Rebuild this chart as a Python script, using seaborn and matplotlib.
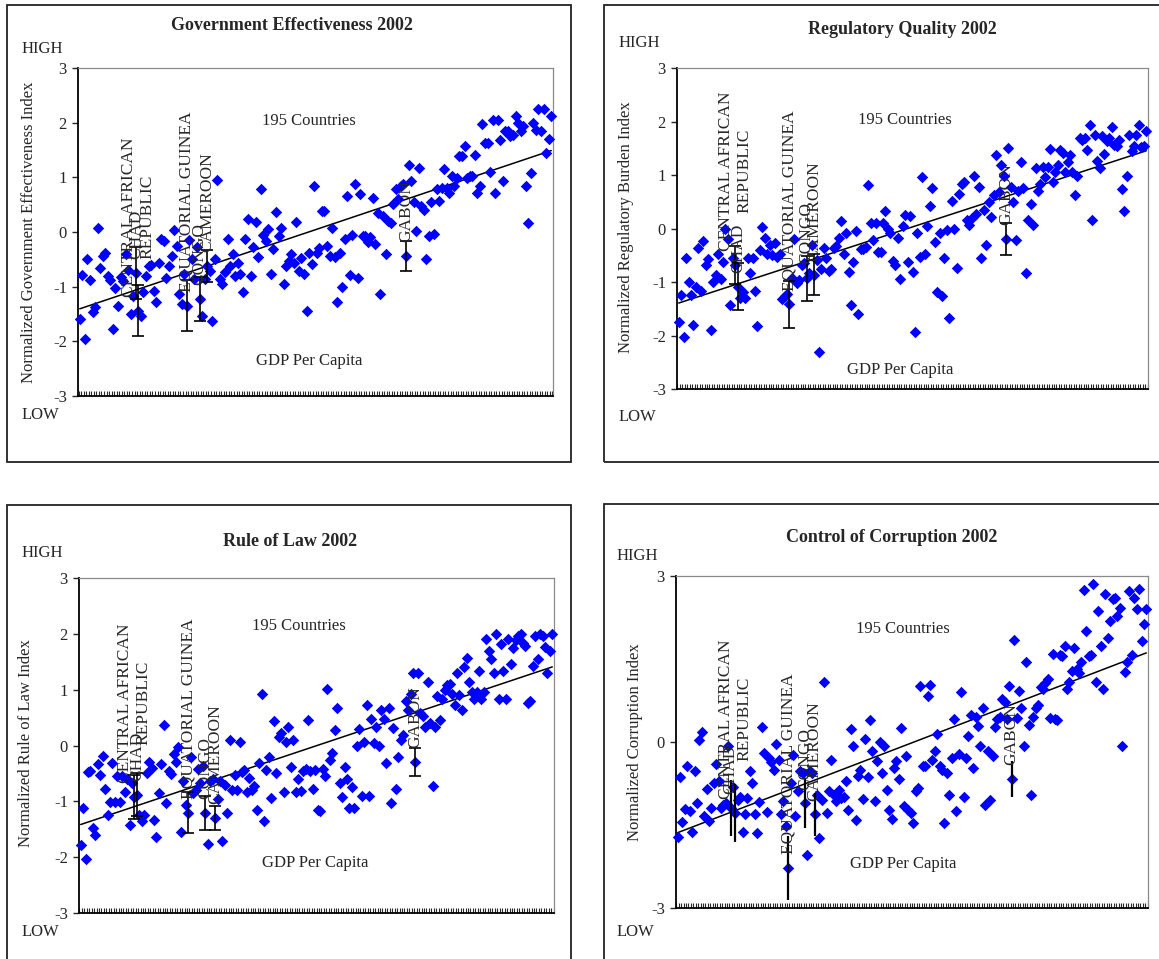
import numpy as np
import pandas as pd
import matplotlib
matplotlib.use("Agg")
import matplotlib.pyplot as plt
import seaborn as sns
from matplotlib.patches import Rectangle

# ---------------- data (countries ordered by GDP per capita) ----------------
gov_eff = [
    -1.60, -0.78, -1.96, -0.50, -0.88, -1.47, -1.38, 0.07, -0.66, -0.43,
    -0.38, -0.80, -0.88, -1.78, -1.03, -1.35, -0.82, -0.90, -0.41, -0.70,
    -1.50, -1.17, -0.75, -1.44, -1.53, -1.10, -0.80, -0.62, -0.60, -1.08,
    -1.28, -0.57, -0.13, -0.16, -0.85, -0.62, -0.44, 0.03, -0.25, -1.14,
    -1.32, -0.77, -1.35, -0.15, -0.50, -0.86, -0.28, -1.23, -1.53, -0.86,
    -0.62, -0.71, -1.62, -0.50, 0.96, -0.86, -0.95, -0.74, -0.12, -0.62,
    -0.41, -0.80, -0.56, -0.77, -1.09, -0.13, 0.23, -0.80, -0.28, 0.18,
    -0.45, 0.79, -0.06, -0.16, 0.05, -0.77, -0.32, 0.36, -0.07, 0.08,
    -0.95, -0.62, -0.53, -0.41, -0.56, 0.18, -0.71, -0.47, -0.77, -1.45,
    -0.38, -0.59, 0.84, -0.39, -0.30, 0.38, 0.38, -0.25, -0.44, 0.07,
    -0.45, -1.28, -0.38, -1.00, -0.13, 0.66, -0.79, -0.06, 0.87, -0.85,
    0.69, -0.07, -0.07, -0.19, -0.09, 0.62, -0.22, 0.35, -1.14, 0.29,
    -0.41, 0.20, 0.16, 0.52, 0.78, 0.61, 0.84, 0.87, -0.44, 1.22,
    0.93, 0.54, 0.02, 1.17, 0.47, 0.41, -0.49, -0.07, 0.55, -0.04,
    0.78, 0.57, 0.81, 1.16, 0.81, 0.72, 1.02, 0.84, 0.99, 1.39,
    1.39, 1.57, 0.99, 1.02, 1.02, 1.40, 0.71, 0.85, 1.98, 1.63,
    1.63, 1.10, 2.04, 0.71, 2.04, 1.68, 0.93, 1.85, 1.85, 1.76,
    1.78, 2.13, 1.99, 1.84, 1.93, 0.84, 0.16, 1.08, 1.99, 1.87,
    2.25, 1.84, 2.25, 1.45, 1.70, 2.13,
]

reg_quality = [
    -1.75, -1.24, -2.03, -0.55, -1.00, -1.24, -1.81, -1.09, -0.36, -1.17,
    -0.24, -0.68, -0.57, -1.89, -1.00, -0.87, -0.48, -0.94, -0.62, 0.00,
    -0.19, -1.43, -0.55, -0.68, -1.09, -1.30, -1.18, -1.30, -0.55, -0.84,
    -0.55, -1.17, -1.83, -0.40, 0.03, -0.17, -0.48, -0.31, -0.50, -0.28,
    -0.53, -0.47, -1.32, -1.26, -1.23, -1.42, -0.93, -0.20, -1.02, -0.96,
    -0.68, -0.65, -0.93, -0.84, -0.31, -0.86, -0.59, -2.30, -0.75, -0.36,
    -0.56, -0.80, -0.75, -0.36, -0.32, -0.17, 0.14, -0.47, -0.09, -0.82,
    -1.43, -0.62, -0.05, -1.60, -0.39, -0.39, -0.34, 0.81, 0.11, -0.22,
    0.11, -0.43, -0.43, 0.11, 0.33, 0.00, -0.09, -0.60, -0.68, -0.17,
    -0.94, 0.05, 0.26, -0.62, 0.23, -0.82, -1.94, -0.09, -0.53, 0.96,
    -0.47, 0.04, 0.42, 0.76, -0.25, -1.18, -0.09, -1.27, -0.55, -0.02,
    -1.68, 0.51, 0.00, -0.73, 0.65, 0.84, 0.86, 0.16, 0.06, 0.19,
    0.99, 0.28, 0.78, -0.55, 0.34, -0.31, 0.50, 0.22, 0.62, 1.37,
    0.68, 1.19, 0.99, -0.19, 1.50, 0.78, 0.50, -0.22, 0.70, 1.24,
    0.76, -0.84, 0.16, 0.45, 0.06, 1.13, 0.71, 0.84, 1.15, 0.96,
    1.15, 1.48, 0.86, 1.06, 1.18, 1.46, 1.42, 1.06, 1.24, 1.37,
    1.06, 0.63, 0.99, 1.69, 1.65, 1.69, 1.46, 1.94, 0.16, 1.75,
    1.27, 1.13, 1.73, 1.40, 1.63, 1.69, 1.89, 1.57, 1.55, 1.66,
    0.73, 0.32, 0.99, 1.75, 1.44, 1.55, 1.74, 1.93, 1.52, 1.55,
    1.83,
]

rule_of_law = [
    -1.79, -1.12, -2.04, -0.48, -0.45, -1.48, -1.61, -0.33, -0.52, -0.18,
    -0.78, -1.24, -1.02, -0.32, -1.02, -0.54, -1.02, -0.54, -0.84, -0.60,
    -1.42, -0.67, -0.92, -0.88, -1.24, -1.36, -1.24, -0.49, -0.30, -0.40,
    -1.34, -1.63, -0.85, -0.33, 0.36, -1.03, -0.46, -0.51, -0.15, -0.30,
    -0.03, -1.55, -0.64, -1.06, -1.20, -0.20, -0.85, -0.80, -0.42, -0.67,
    -0.36, -1.21, -1.76, -0.64, -0.60, -1.30, -0.96, -0.63, -1.71, -0.70,
    -1.21, 0.10, -0.80, -0.52, -0.80, 0.07, -0.48, -0.43, -0.84, -0.58,
    -0.79, -0.72, -1.16, -0.32, 0.92, -1.36, -0.43, -0.21, -0.94, 0.43,
    -0.49, 0.16, 0.22, -0.83, 0.07, 0.33, -0.39, 0.10, -0.83, -0.60,
    -0.82, -0.45, -0.42, 0.45, -0.46, -0.78, -0.43, -1.15, -1.17, -0.42,
    -0.54, 1.01, -0.26, -0.13, 0.28, 0.67, -0.67, -0.92, -0.39, -0.60,
    -1.12, -0.74, -1.12, 0.00, 0.29, -0.91, 0.06, 0.73, -0.91, 0.47,
    0.05, 0.34, 0.00, 0.64, 0.47, -0.32, 0.67, -1.03, 0.31, -0.78,
    -0.21, 0.10, 0.18, 0.79, 0.64, 0.93, 1.29, -0.29, 1.29, 0.58,
    0.52, 0.34, 1.14, 0.40, -0.72, 0.34, 0.88, 0.45, 0.83, 0.99,
    1.08, 1.10, 0.93, 0.73, 1.29, 0.90, 0.64, 1.41, 1.56, 1.14,
    0.95, 0.83, 0.96, 1.34, 0.83, 0.96, 1.90, 1.70, 1.55, 1.29,
    1.99, 0.83, 1.82, 1.34, 0.83, 1.90, 1.46, 1.74, 1.89, 1.96,
    1.99, 1.83, 1.78, 0.76, 0.80, 1.42, 1.96, 1.55, 1.99, 1.96,
    1.77, 1.29, 1.70, 1.99,
]

corruption = [
    -1.71, -0.63, -1.45, -1.21, -0.43, -1.25, -1.62, -0.53, -1.10, 0.04,
    0.18, -1.34, -0.85, -1.43, -1.19, -0.74, -0.40, -0.71, -1.19, -1.13,
    -1.10, -0.07, -1.19, -0.81, -1.28, -1.04, -0.99, -1.62, -1.30, -1.01,
    -0.53, -0.74, -1.31, -1.64, -1.09, 0.28, -0.19, -1.27, -0.29, -0.37,
    -0.50, -0.03, -0.33, -1.31, -1.06, -1.52, -2.27, -0.74, -0.23, -1.34,
    -0.89, -0.53, -0.56, -1.11, -2.04, -0.53, -0.56, -1.31, -0.95, -1.73,
    -1.05, 1.09, -1.28, -0.89, -0.32, -0.95, -1.07, -0.87, -1.01, -0.99,
    -0.71, -1.23, 0.23, -0.08, -1.41, -0.61, -0.50, -1.03, 0.05, -0.63,
    0.39, -0.17, -1.07, -0.35, 0.00, -0.56, -0.07, -0.87, -1.23, -1.40,
    -0.47, -0.35, -0.66, 0.25, -1.15, -0.25, -1.22, -1.28, -1.46, -0.89,
    -0.83, 1.02, -0.43, -0.43, 0.84, 1.03, -0.33, -0.17, 0.15, -0.44,
    -0.50, -1.46, -0.56, -0.95, -0.29, 0.41, -1.25, -0.21, 0.91, -0.99,
    -0.29, 0.10, 0.48, -0.47, 0.46, 0.29, -0.07, 0.61, -1.13, -0.17,
    -1.05, -0.25, 0.27, 0.41, 0.46, 0.78, 0.72, 0.41, 1.02, -0.67,
    1.85, 0.43, 0.93, 0.61, -0.07, 1.44, 0.31, -0.95, 0.46, 0.61,
    0.66, 1.00, 0.96, 1.06, 1.14, 0.43, 1.59, 0.41, 0.39, 1.58,
    1.56, 1.74, 0.96, 1.08, 1.29, 1.70, 1.32, 1.24, 1.44, 2.74,
    2.00, 1.56, 1.58, 2.86, 1.09, 2.36, 1.74, 0.96, 2.68, 1.88,
    2.18, 2.58, 2.60, 2.28, 2.42, -0.08, 1.26, 1.44, 2.72, 1.58,
    2.60, 2.40, 2.76, 1.82, 2.13, 2.40,
]

# highlighted countries: GDP rank in each panel and half-width of error bar
country_names = ["CENTRAL AFRICAN\nREPUBLIC", "CHAD", "EQUATORIAL GUINEA",
                 "CONGO", "CAMEROON", "GABON"]
gov_eff_rank = [24, 23, 43, 48, 51, 129]
gov_eff_err = [0.47, 0.47, 0.47, 0.40, 0.29, 0.28]
reg_quality_rank = [24, 25, 46, 53, 56, 134]
reg_quality_err = [0.36, 0.44, 0.44, 0.42, 0.38, 0.30]
rule_of_law_rank = [23, 24, 45, 52, 56, 138]
rule_of_law_err = [0.40, 0.38, 0.37, 0.31, 0.22, 0.25]
corruption_rank = [25, 23, 47, 54, 58, 140]
corruption_err = [0.53, 0.50, 0.58, 0.44, 0.38, 0.33]

titles = ["Government Effectiveness 2002", "Regulatory Quality 2002",
          "Rule of Law 2002", "Control of Corruption 2002"]
ylabels = ["Normalized Government Effectiveness Index",
           "Normalized Regulatory Burden Index",
           "Normalized Rule of Law Index",
           "Normalized Corruption Index"]
yticks_std = [-3, -2, -1, 0, 1, 2, 3]
yticks_corr = [-3, 0, 3]

# ---------------- style ----------------
sns.set_style("white")
plt.rcParams["font.family"] = ["Liberation Serif", "DejaVu Serif"]
plt.rcParams["axes.unicode_minus"] = False

W, H = 1159, 959
fig = plt.figure(figsize=(W / 100, H / 100), dpi=100)


def fx(p):
    return p / W


def fy(p):
    return 1 - p / H


panels = [
    dict(vals=gov_eff, rank=gov_eff_rank, err=gov_eff_err, yt=yticks_std,
         ax=(78, 68, 553, 396), box=(7, 5, 571, 462), caps=True,
         title=(292, 26), high=(22, 49), low=(22, 415), ylab=(29, 232),
         cnt=(309, 121), gdp=(309, 361)),
    dict(vals=reg_quality, rank=reg_quality_rank, err=reg_quality_err, yt=yticks_std,
         ax=(677, 68, 1148, 389), box=(604, 5, 1170, 462), caps=True,
         title=(902, 29), high=(619, 43), low=(619, 417), ylab=(626, 227),
         cnt=(905, 120), gdp=(900, 370)),
    dict(vals=rule_of_law, rank=rule_of_law_rank, err=rule_of_law_err, yt=yticks_std,
         ax=(79, 578, 554, 913), box=(7, 505, 571, 975), caps=True,
         title=(290, 541), high=(22, 553), low=(22, 932), ylab=(26, 743),
         cnt=(299, 626), gdp=(315, 863)),
    dict(vals=corruption, rank=corruption_rank, err=corruption_err, yt=yticks_corr,
         ax=(676, 576, 1148, 908), box=(604, 504, 1170, 975), caps=False,
         title=(892, 537), high=(617, 556), low=(617, 932), ylab=(635, 742),
         cnt=(903, 629), gdp=(903, 864)),
]

for i, p in enumerate(panels):
    # frame around each chart
    x0, y0, x1, y1 = p["box"]
    fig.patches.append(Rectangle((fx(x0), fy(y1)), (x1 - x0) / W, (y1 - y0) / H,
                                 transform=fig.transFigure, fill=False,
                                 lw=1.3, ec="#222222"))
    l, t, r, b = p["ax"]
    ax = fig.add_axes([fx(l), fy(b), (r - l) / W, (b - t) / H])
    vals = p["vals"]
    n = len(vals)
    df = pd.DataFrame({"rank": np.arange(1, n + 1), "value": vals})

    sns.regplot(data=df, x="rank", y="value", scatter=False, ci=None, ax=ax,
                color="black", line_kws=dict(lw=1.1), truncate=True)
    sns.scatterplot(data=df, x="rank", y="value", marker="D", color="#0000FF",
                    s=34, linewidth=0, ax=ax, zorder=3, clip_on=False)

    rk = np.array(p["rank"])
    yv = df.set_index("rank").loc[rk, "value"].to_numpy()
    if p["caps"]:
        ax.errorbar(rk, yv, yerr=p["err"], fmt="none", ecolor="black",
                    elinewidth=1.2, capsize=4, capthick=1.2, zorder=4)
    else:
        ax.errorbar(rk, yv, yerr=p["err"], fmt="none", ecolor="black",
                    elinewidth=1.6, capsize=0, zorder=4)
    for name, xr, v in zip(country_names, rk, yv):
        ax.annotate(name, xy=(xr, v), xytext=(0, 10), textcoords="offset points",
                    rotation=90, ha="center", va="bottom", fontsize=12.5,
                    multialignment="center", linespacing=1.2, zorder=5)

    ax.set_xlim(0.3, n + 0.7)
    ax.set_ylim(-3, 3)
    ax.set_yticks(p["yt"])
    ax.set_yticklabels([str(v) for v in p["yt"]], fontsize=12)
    ax.set_xticks(np.arange(0.5, n + 1, 1.0))
    ax.set_xticklabels([])
    ax.set_xlabel("")
    ax.set_ylabel("")
    ax.tick_params(axis="y", direction="out", length=4, width=1, pad=4, left=True)
    ax.tick_params(axis="x", direction="in", length=3.5, width=0.8, bottom=True)
    for s in ("left", "bottom"):
        ax.spines[s].set_color("black")
        ax.spines[s].set_linewidth(1.3)
    for s in ("top", "right"):
        ax.spines[s].set_color("#8a8a8a")
        ax.spines[s].set_linewidth(0.9)

    fig.text(fx(p["title"][0]), fy(p["title"][1]), titles[i], ha="center",
             va="center", fontsize=13, fontweight="bold")
    fig.text(fx(p["high"][0]), fy(p["high"][1]), "HIGH", ha="left", va="center",
             fontsize=12)
    fig.text(fx(p["low"][0]), fy(p["low"][1]), "LOW", ha="left", va="center",
             fontsize=12)
    fig.text(fx(p["ylab"][0]), fy(p["ylab"][1]), ylabels[i], ha="center",
             va="center", rotation=90, fontsize=12)
    fig.text(fx(p["cnt"][0]), fy(p["cnt"][1]), "195 Countries", ha="center",
             va="center", fontsize=12)
    fig.text(fx(p["gdp"][0]), fy(p["gdp"][1]), "GDP Per Capita", ha="center",
             va="center", fontsize=12)

fig.savefig("out.png", dpi=100)
